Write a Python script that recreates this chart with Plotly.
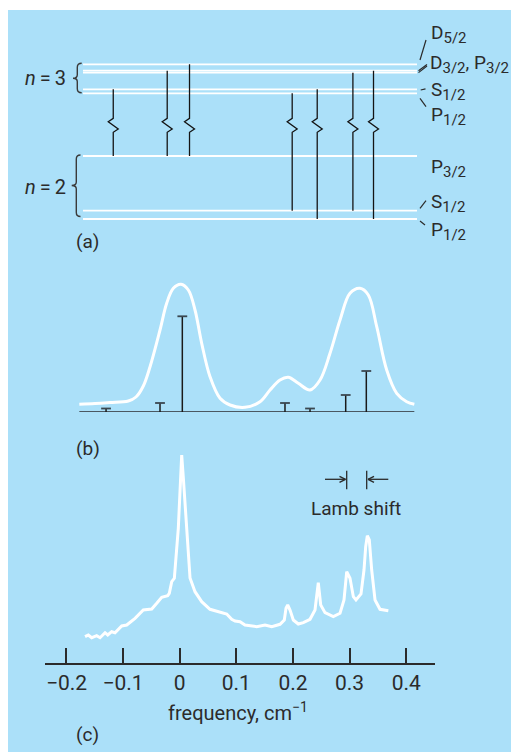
import plotly.graph_objects as go

# The page body has an 8px margin, so the figure is drawn at (8, 8) in the window.
OFF = 8
W, H = 519 - OFF, 752 - OFF
BG = '#abe0f9'
INK = '#2b2b2b'
FONT = 'Roboto, "Open Sans", "DejaVu Sans", sans-serif'

# ---------------- data ----------------
# fine-structure component frequencies (cm^-1) and relative strengths
line_freq = [-0.1301, -0.0348, 0.0046, 0.1859, 0.2301, 0.2931, 0.3295]
line_strength = [3.5, 9.0, 95.7, 9.0, 3.5, 17.0, 41.0]
trans_upper = ['3S1/2', '3D3/2', '3D5/2', '3P1/2', '3S1/2', '3P3/2', '3D3/2']
trans_lower = ['2P3/2', '2P3/2', '2P3/2', '2S1/2', '2P1/2', '2S1/2', '2P1/2']

# schematic energy levels (arbitrary units)
level_names = ['3D5/2', '3D3/2', '3P3/2', '3S1/2', '3P1/2', '2P3/2', '2S1/2', '2P1/2']
level_energy = [175.7, 169.3, 167.3, 150.7, 146.7, 84.0, 29.3, 21.0]

# (b) Doppler-broadened profile
dop_freq = [-0.1773, -0.1496, -0.1231, -0.0908, -0.0772, -0.0643, -0.0524, -0.0348,
            -0.0230, -0.0113, 0.0023, 0.0152, 0.0270, 0.0388, 0.0535, 0.0712, 0.0888,
            0.1153, 0.1418, 0.1595, 0.1771, 0.1918, 0.2094, 0.2301, 0.2478, 0.2654,
            0.2831, 0.3007, 0.3184, 0.3330, 0.3479, 0.3655, 0.3832, 0.4008, 0.4143]
dop_int = [7.7, 8.5, 9.5, 11.0, 15.0, 26.0, 45.3, 82.0, 108.7, 123.7, 127.7, 122.0,
           102.0, 68.7, 35.3, 13.7, 7.0, 4.7, 10.3, 22.0, 32.0, 34.7, 28.7, 22.0, 32.0,
           58.7, 92.0, 118.7, 123.7, 117.0, 85.3, 42.0, 18.7, 10.3, 7.7]

# (c) laser saturation spectrum
spec_freq = [-0.1672, -0.1614, -0.1554, -0.1466, -0.1407, -0.1319, -0.1271, -0.1201,
             -0.1143, -0.1024, -0.0936, -0.0789, -0.0643, -0.0494, -0.0406, -0.0318,
             -0.0212, -0.0184, -0.0141, -0.0095, -0.0025, 0.0005, 0.0035, 0.0064,
             0.0124, 0.0182, 0.0270, 0.0388, 0.0535, 0.0830, 0.0918, 0.0977, 0.1065,
             0.1153, 0.1360, 0.1506, 0.1625, 0.1771, 0.1847, 0.1877, 0.1907, 0.1948,
             0.2006, 0.2094, 0.2183, 0.2301, 0.2389, 0.2447, 0.2490, 0.2566, 0.2712,
             0.2831, 0.2901, 0.2949, 0.3007, 0.3066, 0.3113, 0.3201, 0.3254, 0.3284,
             0.3313, 0.3348, 0.3390, 0.3449, 0.3537, 0.3684]
spec_int = [26.6, 28.3, 25.6, 27.6, 25.6, 30.6, 28.3, 31.6, 30.6, 37.3, 38.3, 45.0,
            53.3, 54.3, 60.0, 66.0, 67.6, 70.0, 81.6, 85.0, 135.0, 168.3, 208.3, 185.3,
            135.3, 85.3, 71.6, 61.6, 54.0, 49.3, 44.0, 42.3, 41.6, 38.3, 36.6, 38.3,
            36.6, 39.0, 43.3, 55.0, 58.3, 53.3, 43.3, 39.3, 40.6, 44.0, 53.3, 80.6,
            58.3, 50.6, 46.6, 50.0, 63.3, 91.6, 85.0, 66.6, 63.3, 69.3, 93.3, 116.6,
            127.6, 123.3, 93.3, 63.3, 54.0, 52.6]

tick_vals = [-0.2, -0.1, 0, 0.1, 0.2, 0.3, 0.4]
tick_text = ['\u22120.2', '\u22120.1', '0', '0.1', '0.2', '0.3', '0.4']

# ---------------- layout helpers (window pixels -> paper fractions) ----------------
def X(px):
    return (px - OFF) / W

def Y(py):
    return 1 - (py - OFF) / H

FREQ_RANGE = [-0.2379, 0.4508]
PX_PER_FREQ = 566.3
LEVEL_EXTENT = [-0.1835, 0.4063]       # x extent of level lines in panel (a)
ZIG = [121.7, 118.3, 111.0, 107.7]     # zig-zag band (energy units)
DZ = 5 / PX_PER_FREQ

fig = go.Figure()

# ---- panel (a) ----
E = dict(zip(level_names, level_energy))
lx, ly = [], []
for e in level_energy:
    lx += [LEVEL_EXTENT[0], LEVEL_EXTENT[1], None]
    ly += [e, e, None]
fig.add_trace(go.Scatter(x=lx, y=ly, mode='lines', line=dict(color='white', width=1.8),
                         xaxis='x', yaxis='y', hoverinfo='skip'))
tx, ty = [], []
for f, u, l in zip(line_freq, trans_upper, trans_lower):
    tx += [f, f, f - DZ, f + DZ, f, f, None]
    ty += [E[u], ZIG[0], ZIG[1], ZIG[2], ZIG[3], E[l], None]
fig.add_trace(go.Scatter(x=tx, y=ty, mode='lines', line=dict(color='#141414', width=1.3),
                         xaxis='x', yaxis='y', hoverinfo='skip'))

# ---- panel (b) ----
fig.add_trace(go.Scatter(x=[dop_freq[0], dop_freq[-1]], y=[0, 0], mode='lines',
                         line=dict(color='#4a5862', width=2.2), xaxis='x2', yaxis='y2'))
sx, sy = [], []
for f, s in zip(line_freq, line_strength):
    sx += [f, f, None]
    sy += [0, s, None]
fig.add_trace(go.Scatter(x=sx, y=sy, mode='lines', line=dict(color='#1a1a1a', width=1.5),
                         xaxis='x2', yaxis='y2'))
fig.add_trace(go.Scatter(x=line_freq, y=line_strength, mode='markers',
                         marker=dict(symbol='line-ew', size=7,
                                     line=dict(color='#3a4750', width=1.8)),
                         xaxis='x2', yaxis='y2'))
fig.add_trace(go.Scatter(x=dop_freq, y=dop_int, mode='lines', line_shape='spline',
                         line=dict(color='white', width=3), xaxis='x2', yaxis='y2'))

# ---- panel (c) ----
fig.add_trace(go.Scatter(x=spec_freq, y=spec_int, mode='lines',
                         line=dict(color='white', width=3), xaxis='x3', yaxis='y3'))

hidden = dict(visible=False, showgrid=False, zeroline=False, fixedrange=True)
fig.update_layout(
    width=W, height=H, autosize=False,
    margin=dict(l=0, r=0, t=0, b=0),
    paper_bgcolor=BG, plot_bgcolor='rgba(0,0,0,0)',
    showlegend=False,
    font=dict(family=FONT, color=INK),
    xaxis=dict(domain=[X(52.2), X(442.2)], range=FREQ_RANGE, anchor='y', **hidden),
    yaxis=dict(domain=[Y(240), Y(20)], range=[0, 220], anchor='x', **hidden),
    xaxis2=dict(domain=[X(45), X(435)], range=FREQ_RANGE, anchor='y2', **hidden),
    yaxis2=dict(domain=[Y(412), Y(270)], range=[0, 142], anchor='x2', **hidden),
    xaxis3=dict(domain=[X(45), X(435)], range=FREQ_RANGE, anchor='y3',
                showline=True, linecolor=INK, linewidth=1.5,
                ticks='inside', ticklen=16, tickwidth=1.5, tickcolor=INK,
                tickvals=tick_vals, ticktext=tick_text,
                tickfont=dict(size=21, color=INK, family=FONT),
                showgrid=False, zeroline=False, fixedrange=True),
    yaxis3=dict(domain=[Y(663.3), Y(445)], range=[0, 218.3], anchor='x3', **hidden),
)

shapes = []
# thin white strip at the very top (page margin gives the rest of the white frame)
shapes.append(dict(type='rect', xref='paper', yref='paper', x0=0, x1=1, y0=Y(10), y1=1,
                   fillcolor='white', line=dict(width=0), layer='below'))

def seg(x0, y0, x1, y1, w=1.2, c=INK):
    shapes.append(dict(type='line', xref='paper', yref='paper', x0=X(x0), y0=Y(y0),
                       x1=X(x1), y1=Y(y1), line=dict(color=c, width=w)))

def brace(xr, xm, xt, ytop, ymid, ybot):
    p = (f"M {X(xr)},{Y(ytop)} Q {X(xm)},{Y(ytop)} {X(xm)},{Y(ytop + 4)} "
         f"L {X(xm)},{Y(ymid - 3.5)} Q {X(xm)},{Y(ymid)} {X(xt)},{Y(ymid)} "
         f"Q {X(xm)},{Y(ymid)} {X(xm)},{Y(ymid + 3.5)} "
         f"L {X(xm)},{Y(ybot - 4)} Q {X(xm)},{Y(ybot)} {X(xr)},{Y(ybot)}")
    shapes.append(dict(type='path', xref='paper', yref='paper', path=p,
                       line=dict(color='#3a3a3a', width=1.4)))

brace(81.7, 77.3, 73.0, 63.3, 78.3, 92.7)
brace(80.5, 76.3, 71.7, 155.0, 185.5, 216.5)

# leader lines in (a)
seg(426, 40, 420, 60)
seg(427, 64.5, 418.5, 70.8)
seg(427, 66.0, 418.5, 72.6)
seg(420.7, 90, 425.5, 88.8)
seg(420, 98.3, 426, 106.7)
seg(420, 208.3, 426, 200.7)
seg(420, 221, 425, 225)

# Lamb shift marker
for xb in (346.7, 366.7):
    seg(xb, 470.7, xb, 489.3, w=1.3)
seg(325, 479.3, 345.5, 479.3, w=1.3)
seg(345.5, 479.3, 339.5, 476.3, w=1.3)
seg(345.5, 479.3, 339.5, 482.3, w=1.3)
seg(388.3, 479.3, 368, 479.3, w=1.3)
seg(368, 479.3, 374, 476.3, w=1.3)
seg(368, 479.3, 374, 482.3, w=1.3)

fig.update_layout(shapes=shapes)

ann = []
def text(x, y, s, size=19, xanchor='left', yanchor='middle'):
    ann.append(dict(x=X(x), y=Y(y), xref='paper', yref='paper', text=s, showarrow=False,
                    xanchor=xanchor, yanchor=yanchor,
                    font=dict(size=size, color=INK, family=FONT)))

def sub(s):
    return f'<sub><span style="font-size:15px">{s}</span></sub>'

text(429, 34, 'D' + sub('5/2'))
text(428, 64, 'D' + sub('3/2') + ', P' + sub('3/2'))
text(429, 91.5, 'S' + sub('1/2'))
text(429, 116, 'P' + sub('1/2'))
text(429, 168.5, 'P' + sub('3/2'))
text(429, 203, 'S' + sub('1/2'))
text(429, 230.5, 'P' + sub('1/2'))

text(45, 78, '<i>n</i>\u2009=\u20093', size=20, xanchor='center')
text(45, 187.5, '<i>n</i>\u2009=\u20092', size=20, xanchor='center')

text(74, 242, '(a)', size=19)
text(74, 448, '(b)', size=19)
text(74, 734, '(c)', size=19)

text(356.3, 508.5, 'Lamb shift', size=19, xanchor='center')
text(238.3, 712, 'frequency, cm<sup>\u22121</sup>', size=20, xanchor='center')

fig.update_layout(annotations=ann)

fig.write_html('out.html')
